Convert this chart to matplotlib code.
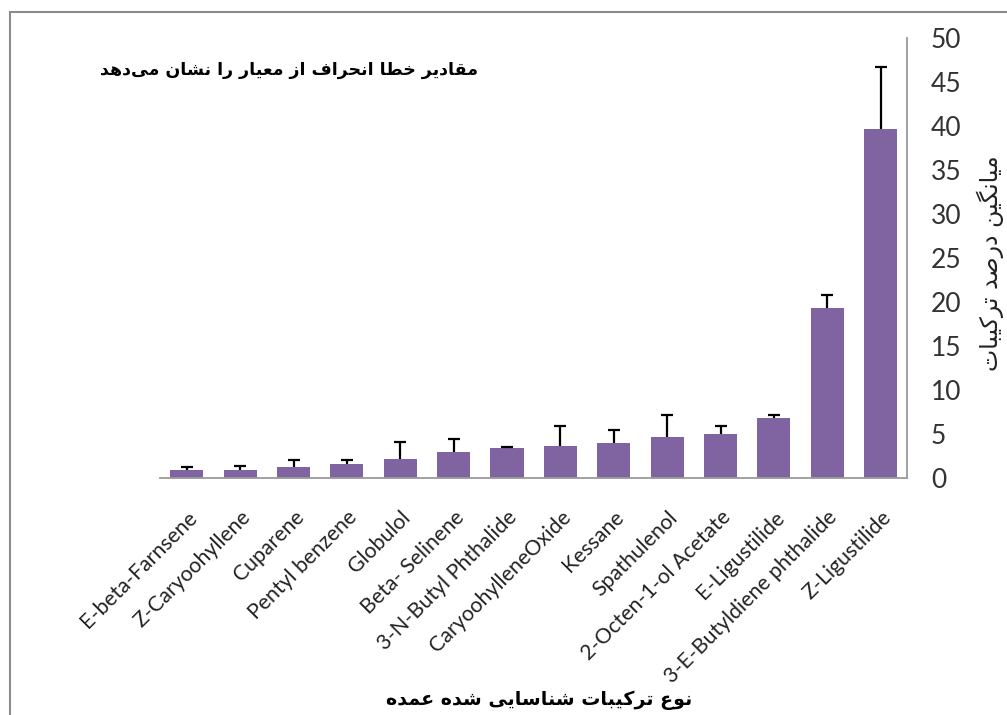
import numpy as np
import matplotlib
matplotlib.use('Agg')
import matplotlib.pyplot as plt
from matplotlib.patches import Rectangle

# data
compounds = ['E-beta-Farnsene', 'Z-Caryoohyllene', 'Cuparene', 'Pentyl benzene',
             'Globulol', 'Beta- Selinene', '3-N-Butyl Phthalide', 'CaryoohylleneOxide',
             'Kessane', 'Spathulenol', '2-Octen-1-ol Acetate', 'E-Ligustilide',
             '3-E-Butyldiene phthalide', 'Z-Ligustilide']
means = [0.9, 0.9, 1.2, 1.55, 2.2, 3.0, 3.4, 3.6, 4.0, 4.6, 5.0, 6.85, 19.3, 39.6]
sd = [0.3, 0.45, 0.85, 0.45, 1.85, 1.45, 0.15, 2.3, 1.5, 2.5, 0.9, 0.35, 1.45, 7.1]
yticks = list(range(0, 55, 5))

title_txt = 'مقادیر خطا انحراف از معیار را نشان می‌دهد'
ylabel_txt = 'میانگین درصد ترکیبات'
xlabel_txt = 'نوع ترکیبات شناسایی شده عمده'

# matplotlib has no arabic shaping -> pick presentation forms by hand
# (isolated, final, initial, medial)
FORMS = {
    'ا': (0xFE8D, 0xFE8E), 'د': (0xFEA9, 0xFEAA), 'ر': (0xFEAD, 0xFEAE),
    'ز': (0xFEAF, 0xFEB0), 'و': (0xFEED, 0xFEEE),
    'ب': (0xFE8F, 0xFE90, 0xFE91, 0xFE92), 'ت': (0xFE95, 0xFE96, 0xFE97, 0xFE98),
    'ح': (0xFEA1, 0xFEA2, 0xFEA3, 0xFEA4), 'خ': (0xFEA5, 0xFEA6, 0xFEA7, 0xFEA8),
    'س': (0xFEB1, 0xFEB2, 0xFEB3, 0xFEB4), 'ش': (0xFEB5, 0xFEB6, 0xFEB7, 0xFEB8),
    'ص': (0xFEB9, 0xFEBA, 0xFEBB, 0xFEBC), 'ط': (0xFEC1, 0xFEC2, 0xFEC3, 0xFEC4),
    'ع': (0xFEC9, 0xFECA, 0xFECB, 0xFECC), 'ف': (0xFED1, 0xFED2, 0xFED3, 0xFED4),
    'ق': (0xFED5, 0xFED6, 0xFED7, 0xFED8), 'م': (0xFEE1, 0xFEE2, 0xFEE3, 0xFEE4),
    'ن': (0xFEE5, 0xFEE6, 0xFEE7, 0xFEE8), 'ه': (0xFEE9, 0xFEEA, 0xFEEB, 0xFEEC),
    'ی': (0xFBFC, 0xFBFD, 0xFBFE, 0xFBFF), 'ک': (0xFB8E, 0xFB8F, 0xFB90, 0xFB91),
    'گ': (0xFB92, 0xFB93, 0xFB94, 0xFB95),
}


def shape(txt):
    out = []
    for i, ch in enumerate(txt):
        f = FORMS.get(ch)
        if f is None:
            if ch != '\u200c':
                out.append(ch)
            continue
        prev = txt[i - 1] if i > 0 else ''
        nxt = txt[i + 1] if i + 1 < len(txt) else ''
        p = len(FORMS.get(prev, ())) == 4
        n = len(f) == 4 and nxt in FORMS
        idx = 3 if (p and n) else 1 if p else 2 if n else 0
        out.append(chr(f[idx]))
    return ''.join(reversed(out))


fig = plt.figure(figsize=(10.07, 7.15), dpi=100)
ax = fig.add_axes([0.159, 0.3315, 0.742, 0.6155])

x = np.arange(len(compounds))
bars = ax.bar(x, means, width=0.62, color='#8064A2',
              yerr=[np.zeros(len(sd)), sd], capsize=4,
              error_kw=dict(ecolor='black', elinewidth=1.6, capthick=1.6))
# only the upper half of the error bar is shown -> drop the lower caps
bars.errorbar.lines[1][0].set_visible(False)

ax.set_xlim(-0.5, len(compounds) - 0.5)
ax.set_ylim(0, 50)
ax.set_yticks(yticks)
ax.yaxis.tick_right()
ax.tick_params(axis='y', length=0, pad=17, labelsize=19, labelcolor='#333333')
ax.tick_params(axis='x', length=0, pad=21)
for lab in ax.get_yticklabels():
    lab.set_fontfamily('Lato')
ax.set_xticks(x)
ax.set_xticklabels(compounds, rotation=45, ha='right', rotation_mode='anchor',
                   fontsize=15.3, family='Lato', color='#222222')

for s in ['left', 'top']:
    ax.spines[s].set_visible(False)
ax.spines['right'].set_color('#9a9a9a')
ax.spines['bottom'].set_color('#9a9a9a')
ax.spines['right'].set_linewidth(1.3)
ax.spines['bottom'].set_linewidth(1.3)

# chart area frame (only left and top edge fall inside the picture)
fig.patches.append(Rectangle((10 / 1007, -0.2), 1.2, 0.2 + 1 - 12 / 715,
                             transform=fig.transFigure, fill=False,
                             edgecolor='#8c8c8c', lw=1.5))

fig.text(0.475, 0.902, shape(title_txt), ha='right', va='center',
         fontsize=12.5, fontweight='bold', family='DejaVu Sans')
fig.text(0.983, 0.632, shape(ylabel_txt), rotation=90, ha='center', va='center',
         fontsize=17, family='DejaVu Sans', color='#222222')
fig.text(0.535, 0.02, shape(xlabel_txt), ha='center', va='center',
         fontsize=13.7, fontweight='bold', family='DejaVu Sans')

fig.savefig('out.png', dpi=100)
